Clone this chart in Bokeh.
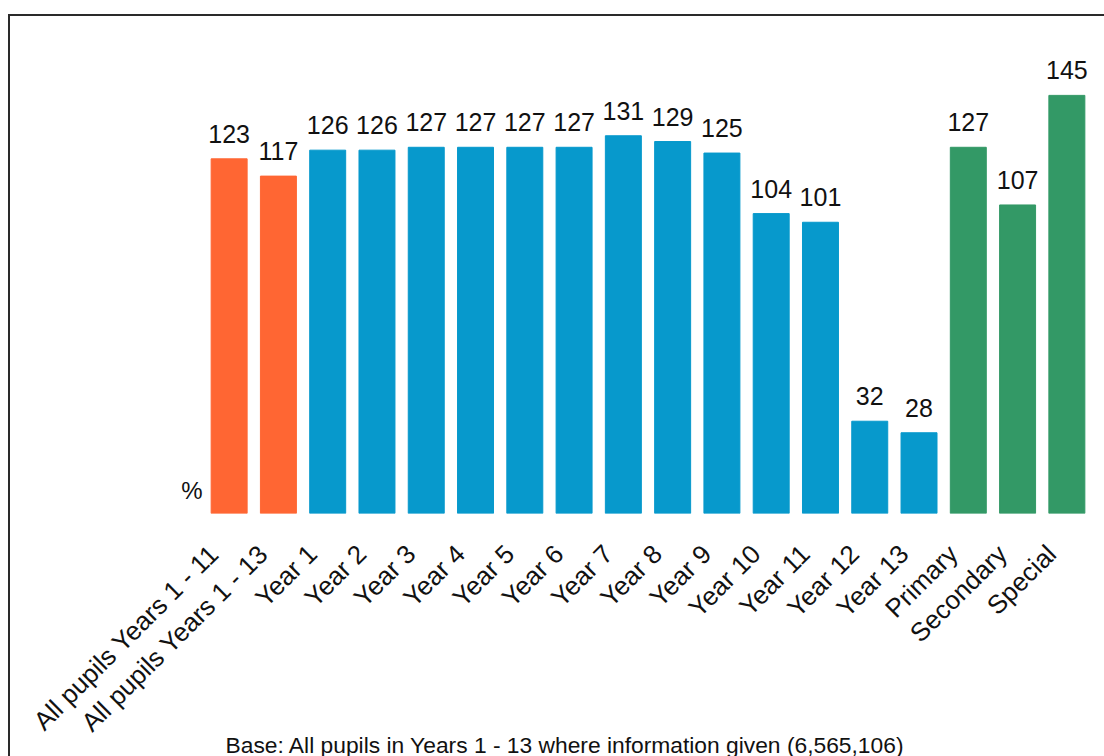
from bokeh.plotting import figure
from bokeh.models import (ColumnDataSource, Range1d, LinearAxis, FixedTicker, Title)
from bokeh.embed import file_html
from bokeh.resources import INLINE
from bokeh.core.properties import value
from math import pi

categories = ["All pupils Years 1 - 11", "All pupils Years 1 - 13", "Year 1", "Year 2",
              "Year 3", "Year 4", "Year 5", "Year 6", "Year 7", "Year 8", "Year 9",
              "Year 10", "Year 11", "Year 12", "Year 13", "Primary", "Secondary", "Special"]
values = [123, 117, 126, 126, 127, 127, 127, 127, 131, 129, 125, 104, 101, 32, 28, 127, 107, 145]
groups = ["All"] * 2 + ["Year"] * 13 + ["School"] * 3
group_colors = {"All": "#FF6633", "Year": "#0799CC", "School": "#339966"}
base_note = "Base: All pupils in Years 1 - 13 where information given (6,565,106)"
unit_label = "%"

FONT = "Liberation Sans"
TXT = "#111111"
n = len(categories)
idx = list(range(n))

src = ColumnDataSource(dict(
    x=idx,
    top=values,
    label=[str(v) for v in values],
    color=[group_colors[g] for g in groups],
))

p = figure(
    x_range=Range1d(-0.5, n - 0.5),
    y_range=Range1d(0, 167.5),
    width=1104, height=756,
    output_backend="svg", toolbar_location=None,
    min_border_left=204, min_border_right=13,
    min_border_top=30, min_border_bottom=243,
    x_axis_type=None, y_axis_type=None,
)
p.border_fill_color = None
p.background_fill_color = None
p.styles = {"box-shadow": "inset 0 14px 0 0 #ffffff, inset 8px 0 0 0 #ffffff, "
                          "inset 0 16px 0 0 #2a2a2a, inset 10px 0 0 0 #2a2a2a"}
p.outline_line_color = None
p.xgrid.visible = False
p.ygrid.visible = False

p.vbar(x="x", top="top", width=0.73, color="color", source=src)
p.text(x="x", y="top", text="label", source=src, text_align="center",
       text_baseline="alphabetic", y_offset=-25, text_font=value(FONT),
       text_font_size="25px", text_color=TXT)

# category labels: an axis on a slightly shifted copy of the x range
shift = 0.31
p.extra_x_ranges = {"labels": Range1d(-0.5 + shift, n - 0.5 + shift)}
xax = LinearAxis(x_range_name="labels", ticker=FixedTicker(ticks=idx),
                 major_label_overrides={i: c for i, c in enumerate(categories)})
xax.axis_line_color = None
xax.major_tick_line_color = None
xax.minor_tick_line_color = None
xax.major_tick_out = 0
xax.major_tick_in = 0
xax.minor_tick_out = 0
xax.major_label_orientation = pi / 4
xax.major_label_standoff = 36
xax.major_label_text_font = FONT
xax.major_label_text_font_size = "26px"
xax.major_label_text_color = TXT
p.add_layout(xax, "below")

# "%" marker on the left, as a single tick of the y axis
yax = LinearAxis(ticker=FixedTicker(ticks=[8]), major_label_overrides={8: unit_label})
yax.axis_line_color = None
yax.major_tick_line_color = None
yax.minor_tick_line_color = None
yax.major_tick_out = 0
yax.major_tick_in = 0
yax.minor_tick_out = 0
yax.major_label_standoff = 2
yax.major_label_text_font = FONT
yax.major_label_text_font_size = "24px"
yax.major_label_text_color = TXT
p.add_layout(yax, "left")

note = Title(text=base_note, align="left", vertical_align="top", offset=21, standoff=-37,
             text_font=FONT, text_font_size="22.8px", text_font_style="normal",
             text_color=TXT)
p.add_layout(note, "below")

open("out.html", "w").write(file_html(p, INLINE))
